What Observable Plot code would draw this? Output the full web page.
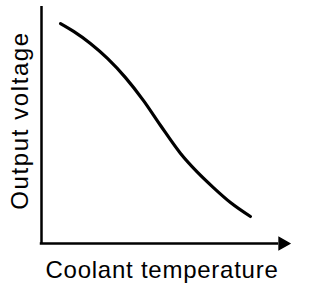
<!DOCTYPE html>
<html>
<head>
<meta charset="utf-8">
<script src="https://cdn.jsdelivr.net/npm/d3@7"></script>
<script src="https://cdn.jsdelivr.net/npm/@observablehq/plot@0.6"></script>
<style>
  html, body { margin: 0; padding: 0; background: #fff; }
</style>
</head>
<body>
<div id="chart"></div>
<script>
// Curve (arbitrary units, 0–100 on both axes)
const temperature = [7.7, 13.0, 19.8, 26.7, 34.0, 41.3, 48.2, 56.3, 63.2, 69.6, 76.5, 84.6];
const voltage     = [92.8, 89.5, 84.4, 78.1, 70.0, 60.3, 49.8, 38.0, 30.0, 23.6, 17.3, 11.4];
const xLabel = "Coolant temperature";
const yLabel = "Output voltage";

const curve = temperature.map((t, i) => ({t, v: voltage[i]}));

const chart = Plot.plot({
  width: 320,
  height: 288,
  marginLeft: 41,
  marginRight: 32,
  marginTop: 6,
  marginBottom: 45,
  style: "font-family: 'Liberation Sans', Arial, sans-serif; font-size: 24px; background: #fff; color: #000;",
  x: {domain: [0, 100], axis: null},
  y: {domain: [0, 100], axis: null},
  marks: [
    Plot.ruleX([0], {y1: 0, y2: 100, stroke: "#000", strokeWidth: 2.5}),
    Plot.ruleY([0], {x1: -0.5, x2: 96, stroke: "#000", strokeWidth: 2.5}),
    Plot.dot([{x: 97.6, y: 0}], {x: "x", y: "y", symbol: "triangle", rotate: 90, r: 4.5, fill: "#000", stroke: "#000"}),
    Plot.line(curve, {x: "t", y: "v", curve: "monotone-x", stroke: "#000", strokeWidth: 3.2}),
    Plot.text([xLabel], {frameAnchor: "bottom", textAnchor: "middle", lineAnchor: "top", dy: 17, dx: -3, fontSize: 24, fill: "#000"}),
    Plot.text([yLabel], {frameAnchor: "left", textAnchor: "middle", rotate: -90, lineAnchor: "bottom", dx: -14, dy: -4.5, fontSize: 24, fill: "#000"})
  ]
});
d3.select(chart).selectAll("text").each(function () {
  const t = this.textContent;
  if (t === xLabel) this.style.letterSpacing = "0.75px";
  if (t === yLabel) this.style.letterSpacing = "1.6px";
});
document.getElementById("chart").appendChild(chart);
</script>
</body>
</html>
